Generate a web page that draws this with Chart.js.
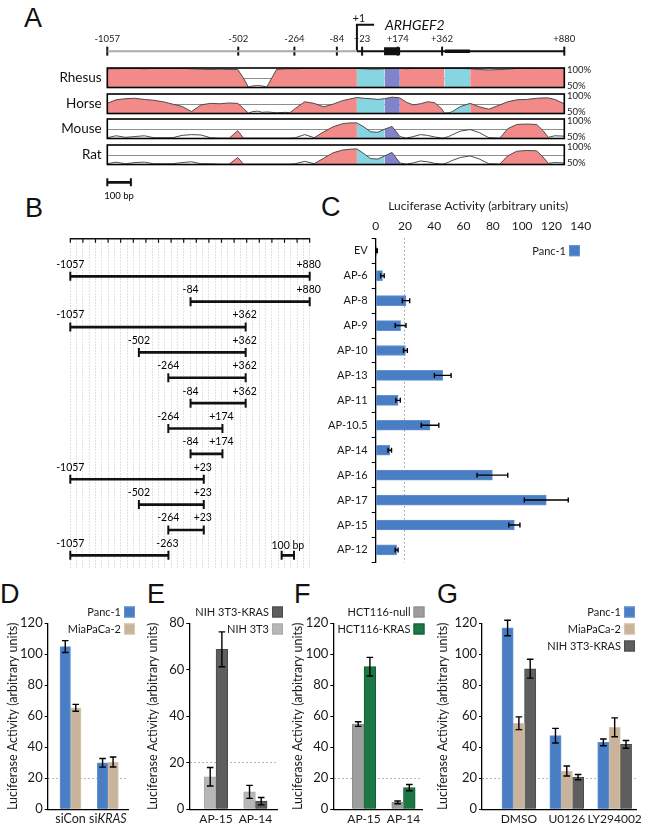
<!DOCTYPE html>
<html><head><meta charset="utf-8">
<script src="https://cdn.jsdelivr.net/npm/chart.js@4.4.1/dist/chart.umd.min.js"></script>
<style>
html,body{margin:0;padding:0;background:#fff;}
#fig{position:relative;width:650px;height:828px;background:#fff;overflow:hidden;}
#fig canvas{position:absolute;}
.pl{position:absolute;font-family:"Liberation Sans",Arial,sans-serif;font-size:27px;line-height:1;color:#111;}
</style></head><body>
<div id="fig">
<div class="pl" style="left:24px;top:5px">A</div>
<div class="pl" style="left:25px;top:195px">B</div>
<div class="pl" style="left:321px;top:194px">C</div>
<div class="pl" style="left:0px;top:581px">D</div>
<div class="pl" style="left:147px;top:581px">E</div>
<div class="pl" style="left:294px;top:581px">F</div>
<div class="pl" style="left:437px;top:581px">G</div>
</div>
<script>
// ---------------- DATA ----------------
// Panel A: gene diagram (bp relative to TSS)
const rulerTicks = [-1057, -502, -264, -84, 23, 174, 362, 880];
const tssPos = 1;
const exonSpan = [116, 184];
const utrBlock = [374, 480];
const geneName = 'ARHGEF2';
const scaleBarA = [-1057, -957];
// Panel A: conservation (% identity) sampled along the region
const consPos = [-1057,-1020,-980,-940,-900,-860,-820,-780,-740,-700,-660,-620,-580,-540,-504,-480,-459,-440,-420,-400,-381,-340,-300,-283,-260,-220,-180,-140,-100,-60,-30,1,30,60,90,119,150,183,210,240,270,300,330,360,372,390,403,440,481,520,560,607,640,678,720,763,790,812,840,880];
const consRhesus = [98,98,99,99,98,99,99,99,99,98,97,96,97,96,96,74,51,54,55,54,51,96,98,98,98,99,99,99,99,99,99,99,98,97,97,98,99,99,98,99,99,99,99,99,99,99,99,99,98,96,95,96,97,99,99,99,99,99,99,99];
const consHorse  = [76,85,88,89,86,84,80,74,68,55,72,76,75,77,76,63,51,55,56,53,54,52,53,52,63,80,76,67,74,83,87,91,89,88,86,88,92,90,79,72,75,80,78,62,51,52,54,68,76,67,61,72,80,85,86,89,90,90,86,75];
const consMouse  = [52,57,53,55,57,52,52,52,58,60,59,52,51,51,70,51,51,51,51,51,51,51,51,51,52,60,52,67,80,88,90,90,80,67,66,74,81,55,51,55,60,58,54,51,52,55,59,69,73,65,52,51,75,86,87,86,70,53,57,56];
const consRat    = [52,56,52,55,56,52,52,52,55,57,52,52,51,51,68,51,51,51,51,51,51,51,51,51,52,58,52,66,80,87,89,90,78,65,64,72,81,54,51,54,59,57,53,51,52,56,60,68,72,64,52,51,72,84,86,85,69,53,55,54];
const conservedRhesus = [[-1057,-459],[-381,880]];
const conservedHorse  = [[-1057,-459],[-283,372],[403,880]];
const conservedMouse  = [[-540,-480],[-180,183],[607,812]];
const conservedRat    = [[-540,-480],[-180,183],[607,812]];
const utrRegions  = [[1,119],[372,481]];
const exonRegions = [[119,183]];

// Panel B/C: constructs
const constructs = ['EV','AP-6','AP-8','AP-9','AP-10','AP-13','AP-11','AP-10.5','AP-14','AP-16','AP-17','AP-15','AP-12'];
const fragStart  = [null,-1057,-84,-1057,-502,-264,-84,-264,-84,-1057,-502,-264,-1057];
const fragEnd    = [null,880,880,362,362,362,362,174,174,23,23,23,-263];
const scaleBarB  = [653, 753];
const lucPanc1    = [0.8,4.6,20.7,17,20.3,45.8,15.3,37.1,9.6,79.7,116.5,94.7,14.3];
const lucPanc1Err = [0.3,1.2,2.5,3.7,1.3,5.7,1.5,6,1.2,10.5,15,3.8,1];

// Panel D
const catD = ['siCon','siKRAS'];
const dPanc1 = [105, 30],   dPanc1Err = [3.8, 2.8];
const dMia   = [65.5, 30.5], dMiaErr  = [2.2, 3.2];
// Panel E
const catE = ['AP-15','AP-14'];
const eNih = [14, 7.5],        eNihErr = [4, 2.8];
const eNihKras = [68.8, 3.5],  eNihKrasErr = [7.5, 1.6];
// Panel F
const catF = ['AP-15','AP-14'];
const fNull = [55, 4.5], fNullErr = [1.5, 0.9];
const fKras = [92, 14],  fKrasErr = [6, 2];
// Panel G
const catG = ['DMSO','U0126','LY294002'];
const gPanc1 = [117, 47.5, 43.2], gPanc1Err = [5, 4.7, 2.2];
const gMia   = [55.5, 24.7, 52.9], gMiaErr  = [4.1, 3.2, 6.1];
const gNih   = [90.7, 20.8, 41.9], gNihErr  = [6.1, 1.7, 2.5];

// ---------------- STYLE ----------------
const FONT = 'Lato, "Open Sans", sans-serif';
const INK = '#1a1a1a';
const BLUE = '#4A7EC4', BLUE_E = '#6392d2';
const TAN = '#C9B49B', TAN_E = '#d8c6b1';
const DARK = '#5E5E5E', DARK_E = '#4a4a4a';
const LIGHT = '#B7B7B7', LIGHT_E = '#a9a9a9';
const GRAYF = '#9D9D9D', GRAYF_E = '#8d8d8d';
const GREEN = '#1B7743', GREEN_E = '#125c32';
const PINK = '#F28A8A', CYAN = '#86D5E1', PURPLE = '#8283CA';

Chart.defaults.font.family = FONT;
Chart.defaults.color = INK;
Chart.defaults.animation = false;
Chart.defaults.responsive = false;
Chart.defaults.plugins.legend.display = false;
Chart.defaults.plugins.tooltip.enabled = false;

function mk(left, top, w, h) {
  const c = document.createElement('canvas');
  c.width = w; c.height = h;
  c.style.left = left + 'px'; c.style.top = top + 'px';
  c.style.width = w + 'px'; c.style.height = h + 'px';
  document.getElementById('fig').appendChild(c);
  return c;
}
const fmtBp = v => (v > 0 ? '+' + v : '' + v);

// ---------------- PLUGINS ----------------
const errPlugin = {
  id: 'errbars',
  afterDatasetsDraw(chart, args, o) {
    const ctx = chart.ctx;
    const horiz = chart.options.indexAxis === 'y';
    chart.data.datasets.forEach((ds, di) => {
      if (!ds.errors) return;
      const meta = chart.getDatasetMeta(di);
      const vs = meta.vScale;
      ctx.save();
      ctx.strokeStyle = '#000';
      ctx.lineWidth = o.width || 1.4;
      const c = o.cap || 3;
      meta.data.forEach((el, j) => {
        const raw = ds.data[j];
        const v = (raw !== null && typeof raw === 'object') ? (horiz ? raw.x : raw.y) : raw;
        const e = ds.errors[j];
        if (v == null || e == null) return;
        const a = vs.getPixelForValue(v - e), b = vs.getPixelForValue(v + e);
        ctx.beginPath();
        if (horiz) {
          ctx.moveTo(a, el.y); ctx.lineTo(b, el.y);
          ctx.moveTo(a, el.y - c); ctx.lineTo(a, el.y + c);
          ctx.moveTo(b, el.y - c); ctx.lineTo(b, el.y + c);
        } else {
          ctx.moveTo(el.x, a); ctx.lineTo(el.x, b);
          ctx.moveTo(el.x - c, a); ctx.lineTo(el.x + c, a);
          ctx.moveTo(el.x - c, b); ctx.lineTo(el.x + c, b);
        }
        ctx.stroke();
      });
      ctx.restore();
    });
  }
};

const keyPlugin = {
  id: 'key',
  afterDraw(chart, args, o) {
    if (!o || o.dx == null) return;
    const ctx = chart.ctx, ca = chart.chartArea;
    let items = chart.data.datasets.filter(d => d.label);
    if (o.reverse) items = items.slice().reverse();
    const box = o.box || 11, rowH = o.rowH || 17, gap = o.gap || 3;
    ctx.save();
    ctx.font = (o.size || 11) + 'px ' + FONT;
    ctx.textAlign = 'right'; ctx.textBaseline = 'middle';
    items.forEach((d, k) => {
      const cy = ca.top + o.dy + k * rowH;
      const bx = ca.right + o.dx - box;
      ctx.fillStyle = d.backgroundColor;
      ctx.fillRect(bx, cy - box / 2, box, box);
      ctx.strokeStyle = d.borderColor || d.backgroundColor; ctx.lineWidth = 1;
      ctx.strokeRect(bx + 0.5, cy - box / 2 + 0.5, box - 1, box - 1);
      ctx.fillStyle = INK;
      ctx.fillText(d.label, bx - gap, cy + 0.5);
    });
    ctx.restore();
  }
};

const rangePlugin = {
  id: 'ranges',
  afterDatasetsDraw(chart, args, o) {
    const ctx = chart.ctx, xs = chart.scales.x;
    const cap = o.cap || 4;
    ctx.save();
    chart.data.datasets.forEach((ds, di) => {
      const meta = chart.getDatasetMeta(di);
      meta.data.forEach((el, j) => {
        const r = ds.data[j];
        if (!Array.isArray(r)) return;
        const x0 = xs.getPixelForValue(r[0]), x1 = xs.getPixelForValue(r[1]);
        const y = el.y;
        ctx.strokeStyle = '#111'; ctx.lineWidth = 2;
        ctx.beginPath();
        ctx.moveTo(x0, y - cap); ctx.lineTo(x0, y + cap);
        ctx.moveTo(x1, y - cap); ctx.lineTo(x1, y + cap);
        ctx.stroke();
        ctx.fillStyle = '#000';
        ctx.font = (o.size || 9.5) + 'px ' + FONT;
        ctx.textAlign = 'center'; ctx.textBaseline = 'middle';
        if (ds.rangeLabel === 'ends') {
          ctx.fillText(fmtBp(r[0]), x0, y - (o.lift || 12));
          ctx.fillText(fmtBp(r[1]), x1 - 1, y - (o.lift || 12));
        } else if (ds.rangeLabel) {
          ctx.fillText(ds.rangeLabel, (x0 + x1) / 2, y + ds.labelDy);
        }
      });
    });
    ctx.restore();
  }
};

const framePlugin = {
  id: 'frame',
  beforeDatasetsDraw(chart, args, o) {
    if (o.mid == null) return;
    const {ctx, chartArea: a} = chart;
    const y = Math.round(chart.scales.y.getPixelForValue(o.mid)) + 0.5;
    ctx.save();
    ctx.strokeStyle = '#8e8e8e'; ctx.lineWidth = 1;
    ctx.beginPath(); ctx.moveTo(a.left, y); ctx.lineTo(a.right, y); ctx.stroke();
    ctx.restore();
  },
  afterDatasetsDraw(chart) {
    const {ctx, chartArea: a} = chart;
    ctx.save();
    ctx.strokeStyle = '#000'; ctx.lineWidth = 1.6;
    ctx.strokeRect(a.left, a.top, a.right - a.left, a.bottom - a.top);
    ctx.restore();
  }
};

const combPlugin = {
  id: 'comb',
  afterDraw(chart, args, o) {
    const xs = chart.scales.x, ctx = chart.ctx, top = chart.chartArea.top;
    ctx.save();
    ctx.strokeStyle = '#111'; ctx.lineWidth = 1.2;
    ctx.beginPath();
    xs.ticks.forEach((t, i) => {
      if (i % 2) return;
      const x = xs.getPixelForValue(t.value);
      ctx.moveTo(x, top); ctx.lineTo(x, top + (o.len || 4.5));
    });
    ctx.stroke();
    ctx.restore();
  }
};

const geneTextPlugin = {
  id: 'geneText',
  afterDatasetsDraw(chart, args, o) {
    const xs = chart.scales.x, ys = chart.scales.y, ctx = chart.ctx;
    ctx.save();
    ctx.fillStyle = '#111';
    ctx.font = 'italic 14px ' + FONT;
    ctx.textAlign = 'left'; ctx.textBaseline = 'middle';
    ctx.fillText(geneName, xs.getPixelForValue(o.nameX), ys.getPixelForValue(o.h) + 1);
    ctx.font = '10.5px ' + FONT;
    ctx.textAlign = 'center'; ctx.textBaseline = 'bottom';
    ctx.fillText('+' + tssPos, xs.getPixelForValue(tssPos) + 2, ys.getPixelForValue(o.h) - 0.5);
    ctx.restore();
  }
};

const richCatPlugin = {
  id: 'richCat',
  afterDraw(chart, args, o) {
    if (!o || !o.labels) return;
    const xs = chart.scales.x, ctx = chart.ctx;
    const y = chart.chartArea.bottom + (o.dy || 9);
    const size = o.size || 13;
    ctx.save();
    ctx.fillStyle = INK; ctx.textBaseline = 'middle'; ctx.textAlign = 'left';
    o.labels.forEach((lab, i) => {
      const parts = [];
      const k = o.italic ? lab.indexOf(o.italic) : -1;
      if (k >= 0) {
        if (k > 0) parts.push([lab.slice(0, k), false]);
        parts.push([o.italic, true]);
        if (k + o.italic.length < lab.length) parts.push([lab.slice(k + o.italic.length), false]);
      } else parts.push([lab, false]);
      let w = 0;
      parts.forEach(p => { ctx.font = (p[1] ? 'italic ' : '') + size + 'px ' + FONT; p.push(ctx.measureText(p[0]).width); w += p[2]; });
      let x = xs.getPixelForValue(i) - w / 2;
      parts.forEach(p => { ctx.font = (p[1] ? 'italic ' : '') + size + 'px ' + FONT; ctx.fillText(p[0], x, y); x += p[2]; });
    });
    ctx.restore();
  }
};

// ---------------- PANEL A ----------------
const TSS_H = 4.5;
new Chart(mk(0, 0, 650, 64), {
  type: 'line',
  data: {
    datasets: [
      { data: [{x: rulerTicks[0], y: 0}, {x: tssPos, y: 0}], borderColor: '#ababab', borderWidth: 2, pointRadius: 0 },
      { data: [{x: tssPos, y: 0}, {x: rulerTicks[rulerTicks.length - 1], y: 0}], borderColor: '#111', borderWidth: 2, pointRadius: 0 },
      { data: [{x: exonSpan[0], y: 0}, {x: exonSpan[1], y: 0}], borderColor: '#111', borderWidth: 8, pointRadius: 0 },
      { data: [{x: utrBlock[0], y: 0}, {x: utrBlock[1], y: 0}], borderColor: '#111', borderWidth: 3.5, pointRadius: 0 },
      { data: [{x: tssPos, y: 0}, {x: tssPos, y: TSS_H}, {x: 74, y: TSS_H}], borderColor: '#111', borderWidth: 2, pointRadius: 0, clip: false },
      { data: [{x: 74, y: TSS_H}], showLine: false, pointStyle: 'triangle', rotation: 90, pointRadius: 6, backgroundColor: '#111', borderColor: '#111', borderWidth: 1, clip: false },
      { data: rulerTicks.map(v => ({x: v, y: 0})), showLine: false, pointStyle: 'line', rotation: 90, pointRadius: 4.5, borderColor: '#111', pointBorderWidth: 2, clip: false }
    ]
  },
  options: {
    devicePixelRatio: 1,
    layout: { padding: { left: 107.3, right: 85.7, top: 0, bottom: 4.7 } },
    scales: {
      x: { type: 'linear', position: 'top', min: -1057, max: 880, bounds: 'data',
        afterBuildTicks: s => { s.ticks = rulerTicks.map(v => ({value: v})); },
        ticks: { callback: v => fmtBp(v), font: { size: 9.5 }, padding: 1, autoSkip: false, maxRotation: 0, minRotation: 0, color: '#222' },
        grid: { display: false, drawTicks: false }, border: { display: false },
        afterFit: s => { s.height = 45.3; s.paddingLeft = 0; s.paddingRight = 0; } },
      y: { display: false, min: -1, max: 1 }
    },
    plugins: { geneText: { nameX: 120, h: TSS_H } }
  },
  plugins: [geneTextPlugin]
});

function inRegions(m, regs) { return regs.some(r => m >= r[0] && m <= r[1]); }
function regionColor(m, conserved) {
  if (!inRegions(m, conserved)) return 'rgba(0,0,0,0)';
  if (inRegions(m, exonRegions)) return PURPLE;
  if (inRegions(m, utrRegions)) return CYAN;
  return PINK;
}
function track(top, name, vals, conserved) {
  new Chart(mk(0, top, 650, 30), {
    type: 'line',
    data: { datasets: [{
      data: consPos.map((p, i) => ({x: p, y: vals[i]})),
      borderColor: '#4d4d4d', borderWidth: 1, pointRadius: 0, tension: 0,
      fill: 'start', backgroundColor: 'rgba(0,0,0,0)',
      segment: { backgroundColor: c => regionColor((c.p0.parsed.x + c.p1.parsed.x) / 2, conserved) }
    }]},
    options: {
      devicePixelRatio: 1,
      layout: { padding: { left: 0, right: 0, top: 5, bottom: 5.5 } },
      scales: {
        x: { type: 'linear', display: false, min: -1057, max: 880 },
        y: { min: 50, max: 100,
          afterBuildTicks: s => { s.ticks = [{value: 75}]; },
          ticks: { callback: () => name, font: { size: 13.5 }, padding: 5.6, color: '#111', autoSkip: false },
          grid: { display: false, drawTicks: false }, border: { display: false },
          afterFit: s => { s.width = 107.3; s.paddingTop = 0; s.paddingBottom = 0; } },
        y2: { position: 'right', min: 44, max: 106,
          afterBuildTicks: s => { s.ticks = [{value: 50}, {value: 100}]; },
          ticks: { callback: v => v + '%', font: { size: 9.5 }, padding: 2.7, color: '#222', autoSkip: false },
          grid: { display: false, drawTicks: false }, border: { display: false },
          afterFit: s => { s.width = 85.7; s.paddingTop = 0; s.paddingBottom = 0; } }
      },
      plugins: { frame: { mid: 75 } }
    },
    plugins: [framePlugin]
  });
}
track(62.7, 'Rhesus', consRhesus, conservedRhesus);
track(89, 'Horse', consHorse, conservedHorse);
track(114.3, 'Mouse', consMouse, conservedMouse);
track(140.3, 'Rat', consRat, conservedRat);

// scale bar for A
new Chart(mk(0, 172, 650, 34), {
  type: 'bar',
  data: { labels: ['scale'], datasets: [{ data: [scaleBarA], backgroundColor: '#111', barThickness: 2, rangeLabel: (scaleBarA[1] - scaleBarA[0]) + ' bp', labelDy: 14 }] },
  options: {
    devicePixelRatio: 1, indexAxis: 'y',
    layout: { padding: { left: 107.3, right: 85.7, top: 2, bottom: 15.4 } },
    scales: { x: { min: -1057, max: 880, display: false }, y: { display: false } },
    plugins: { ranges: { cap: 4, size: 9.5 } }
  },
  plugins: [rangePlugin]
});

// ---------------- PANEL B ----------------
new Chart(mk(0, 225, 330, 345), {
  type: 'bar',
  data: {
    labels: constructs,
    datasets: [
      { data: constructs.map((c, i) => fragStart[i] == null ? null : [fragStart[i], fragEnd[i]]), backgroundColor: '#111', barThickness: 2, grouped: false, rangeLabel: 'ends' },
      { data: constructs.map((c, i) => i === constructs.length - 1 ? scaleBarB : null), backgroundColor: '#111', barThickness: 2, grouped: false, rangeLabel: (scaleBarB[1] - scaleBarB[0]) + ' bp', labelDy: -10 }
    ]
  },
  options: {
    devicePixelRatio: 1, indexAxis: 'y',
    layout: { padding: { left: 70.3, right: 20.3, top: 13.3, bottom: 2 } },
    scales: {
      x: { position: 'top', min: -1057, max: 880, bounds: 'data',
        afterBuildTicks: s => { const n = 38; s.ticks = []; for (let i = 0; i <= n; i++) s.ticks.push({value: s.min + (s.max - s.min) * i / n}); },
        ticks: { display: false },
        grid: { color: '#c4c4c4', drawTicks: false, lineWidth: 1 },
        border: { display: true, color: '#111', width: 1.5, dash: [1, 2] },
        afterFit: s => { s.height = 0; } },
      y: { display: false }
    },
    plugins: { comb: { len: 4.5 }, ranges: { cap: 4.5, lift: 12, size: 10.5 } }
  },
  plugins: [combPlugin, rangePlugin]
});

// ---------------- PANEL C ----------------
new Chart(mk(320, 195, 330, 378), {
  type: 'bar',
  data: { labels: constructs, datasets: [{ label: 'Panc-1', data: lucPanc1, errors: lucPanc1Err, backgroundColor: BLUE, borderColor: BLUE_E, borderWidth: 1, barThickness: 10 }] },
  options: {
    devicePixelRatio: 1, indexAxis: 'y',
    layout: { padding: { left: 0, right: 69.3, top: 4, bottom: 5 } },
    scales: {
      x: { position: 'top', min: 0, max: 140,
        ticks: { stepSize: 20, font: { size: 12 }, padding: 5, maxRotation: 0, color: INK },
        grid: { color: c => (c.tick && c.tick.value === 20) ? '#9a9a9a' : 'rgba(0,0,0,0)', drawTicks: false },
        border: { display: false, dash: [1.5, 2.5] },
        title: { display: true, text: 'Luciferase Activity (arbitrary units)', font: { size: 12 }, padding: { top: 0, bottom: 3 }, color: INK },
        afterFit: s => { s.height = 39.3; } },
      y: { ticks: { font: { size: 11 }, padding: 4, color: INK, autoSkip: false },
        grid: { offset: true, drawOnChartArea: false, tickLength: 4, tickColor: '#000' },
        border: { color: '#000', width: 1.3 },
        afterFit: s => { s.width = 55.7; } }
    },
    plugins: { errbars: { cap: 2.5, width: 1.4 }, key: { dx: -0.7, dy: 12.4, size: 11 } }
  },
  plugins: [errPlugin, keyPlugin]
});

// ---------------- PANELS D-G ----------------
function yAx(max, width) {
  return {
    min: 0, max: max,
    ticks: { stepSize: 20, font: { size: 13 }, padding: 2, color: INK },
    grid: { color: c => (c.tick && c.tick.value === 20) ? '#a0a0a0' : 'rgba(0,0,0,0)', tickColor: '#000', tickLength: 3, lineWidth: 1 },
    border: { display: true, color: '#000', width: 1.3, dash: [1.5, 2.5] },
    title: { display: true, text: 'Luciferase Activity (arbitrary units)', font: { size: 12.5 }, padding: { top: 5, bottom: 0 }, color: INK },
    afterFit: s => { s.width = width; }
  };
}
function xAx(cats, min, max, show) {
  return {
    type: 'linear', min: min, max: max, bounds: 'data', offset: false,
    afterBuildTicks: s => { s.ticks = cats.map((c, i) => ({value: i})); },
    ticks: { display: show, callback: v => cats[v], font: { size: 12 }, padding: 2.5, color: INK, autoSkip: false, maxRotation: 0, minRotation: 0 },
    grid: { display: false, drawTicks: false, offset: false },
    border: { display: true, color: '#000', width: 1.3 },
    afterFit: s => { s.height = 18.7; s.paddingLeft = 0; s.paddingRight = 0; }
  };
}
const pts = arr => arr.map((v, i) => ({x: i, y: v}));

// D
new Chart(mk(0, 590, 140, 238), {
  type: 'bar',
  data: { datasets: [
    { label: 'Panc-1', data: pts(dPanc1), errors: dPanc1Err, backgroundColor: BLUE, borderColor: BLUE_E, borderWidth: 1, barThickness: 10.5 },
    { label: 'MiaPaCa-2', data: pts(dMia), errors: dMiaErr, backgroundColor: TAN, borderColor: TAN_E, borderWidth: 1, barThickness: 10.5 }
  ]},
  options: {
    devicePixelRatio: 1,
    layout: { padding: { left: 0, right: 12, top: 33.3, bottom: 0 } },
    scales: { x: xAx(catD, -0.611, 1.54, false), y: yAx(120, 47.7) },
    plugins: { errbars: { cap: 3.3 }, key: { dx: 7, dy: -11.3 }, richCat: { labels: catD, italic: 'KRAS', size: 12.5, dy: 9.5 } }
  },
  plugins: [errPlugin, keyPlugin, richCatPlugin]
});

// E
new Chart(mk(140, 590, 145, 238), {
  type: 'bar',
  data: { datasets: [
    { label: 'NIH 3T3', data: pts(eNih), errors: eNihErr, backgroundColor: LIGHT, borderColor: LIGHT_E, borderWidth: 1, barThickness: 11.7 },
    { label: 'NIH 3T3-KRAS', data: pts(eNihKras), errors: eNihKrasErr, backgroundColor: DARK, borderColor: DARK_E, borderWidth: 1, barThickness: 11.7 }
  ]},
  options: {
    devicePixelRatio: 1,
    layout: { padding: { left: 0, right: 8, top: 33.3, bottom: 0 } },
    scales: { x: xAx(catE, -0.68, 1.55, true), y: yAx(80, 49.3) },
    plugins: { errbars: { cap: 3.3 }, key: { dx: 6, dy: -11.3, reverse: true } }
  },
  plugins: [errPlugin, keyPlugin]
});

// F
new Chart(mk(285, 590, 145, 238), {
  type: 'bar',
  data: { datasets: [
    { label: 'HCT116-null', data: pts(fNull), errors: fNullErr, backgroundColor: GRAYF, borderColor: GRAYF_E, borderWidth: 1, barThickness: 11.7 },
    { label: 'HCT116-KRAS', data: pts(fKras), errors: fKrasErr, backgroundColor: GREEN, borderColor: GREEN_E, borderWidth: 1, barThickness: 11.7 }
  ]},
  options: {
    devicePixelRatio: 1,
    layout: { padding: { left: 0, right: 8, top: 33.3, bottom: 0 } },
    scales: { x: xAx(catF, -0.78, 1.47, true), y: yAx(120, 48.3) },
    plugins: { errbars: { cap: 3.3 }, key: { dx: 2.5, dy: -11.3 } }
  },
  plugins: [errPlugin, keyPlugin]
});

// G
new Chart(mk(430, 590, 220, 238), {
  type: 'bar',
  data: { datasets: [
    { label: 'Panc-1', data: pts(gPanc1), errors: gPanc1Err, backgroundColor: BLUE, borderColor: BLUE_E, borderWidth: 1, barThickness: 11.3 },
    { label: 'MiaPaCa-2', data: pts(gMia), errors: gMiaErr, backgroundColor: TAN, borderColor: TAN_E, borderWidth: 1, barThickness: 11.3 },
    { label: 'NIH 3T3-KRAS', data: pts(gNih), errors: gNihErr, backgroundColor: DARK, borderColor: DARK_E, borderWidth: 1, barThickness: 11.3 }
  ]},
  options: {
    devicePixelRatio: 1,
    layout: { padding: { left: 0, right: 13.3, top: 33.3, bottom: 0 } },
    scales: { x: xAx(catG, -0.77, 2.46, true), y: yAx(120, 52) },
    plugins: { errbars: { cap: 3.3 }, key: { dx: -1.7, dy: -11.3 } }
  },
  plugins: [errPlugin, keyPlugin]
});
</script>
</body></html>
